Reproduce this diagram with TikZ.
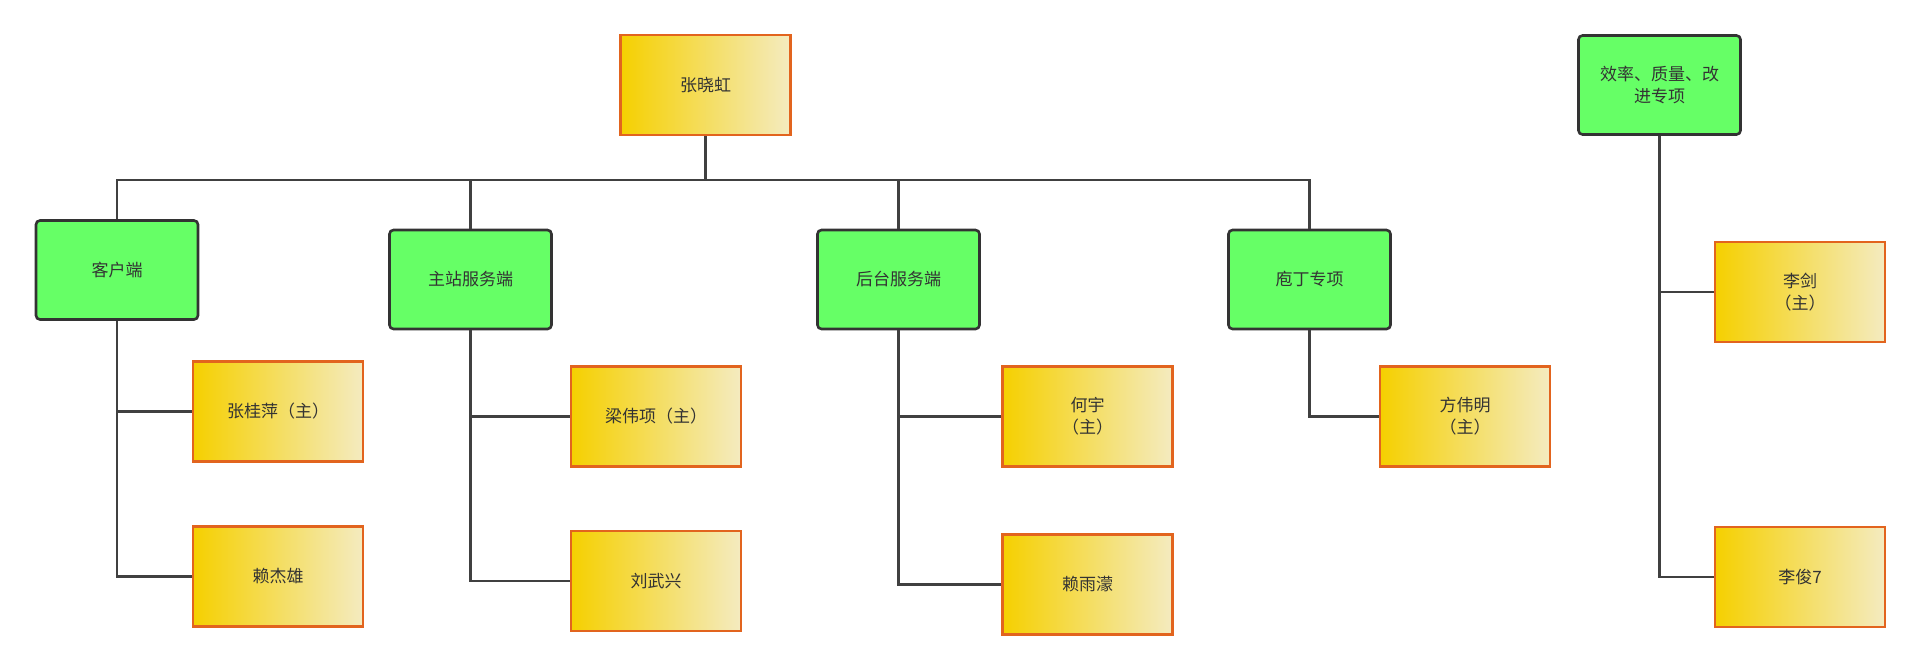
\documentclass[tikz,border=0pt]{standalone}
\usepackage{fontspec}
\setmainfont{Noto Sans CJK SC}
\begin{document}
\begin{tikzpicture}[x=0.5pt,y=-0.5pt,
  gbox/.style={draw=black!80,line width=1.3pt,rounded corners=2pt,fill={rgb,255:red,102;green,255;blue,102},minimum width=81pt,minimum height=49.5pt,align=center,font=\fontsize{8.5}{11}\selectfont,text=black!80,inner sep=1pt,text width=72pt},
  ybox/.style={draw={rgb,255:red,226;green,100;blue,30},line width=1.1pt,left color={rgb,255:red,245;green,208;blue,0},right color={rgb,255:red,244;green,235;blue,192},minimum width=85pt,minimum height=50pt,align=center,font=\fontsize{8.5}{11}\selectfont,text=black!80},
  ln/.style={draw=black!75,line width=1.2pt}]
\useasboundingbox (0,0) rectangle (1920,670);
\node[ybox] (top) at (705.5,85) {张晓虹};
\node[gbox] (eff) at (1659.5,85) {效率、质量、改\\进专项};
\node[gbox] (k) at (117,270) {客户端};
\node[gbox] (z) at (470.5,279.5) {主站服务端};
\node[gbox] (h) at (898.5,279.5) {后台服务端};
\node[gbox] (p) at (1309.5,279.5) {庖丁专项};
\node[ybox] (k1) at (278,411.5) {张桂萍（主）};
\node[ybox] (k2) at (278,576.5) {赖杰雄};
\node[ybox] (z1) at (656,416.5) {梁伟项（主）};
\node[ybox] (z2) at (656,581) {刘武兴};
\node[ybox] (h1) at (1087.5,416.5) {何宇\\（主）};
\node[ybox] (h2) at (1087.5,584.5) {赖雨濛};
\node[ybox] (p1) at (1465,416.5) {方伟明\\（主）};
\node[ybox] (e1) at (1800,292) {李剑\\（主）};
\node[ybox] (e2) at (1800,577) {李俊7};
\coordinate (bus) at (705.5,180);
\draw[ln] (top.south) -- (bus) -| (k.north);
\draw[ln] (bus) -| (z.north);
\draw[ln] (bus) -| (h.north);
\draw[ln] (bus) -| (p.north);
\draw[ln] (k.south) |- (k1.west);
\draw[ln] (k.south) |- (k2.west);
\draw[ln] (z.south) |- (z1.west);
\draw[ln] (z.south) |- (z2.west);
\draw[ln] (h.south) |- (h1.west);
\draw[ln] (h.south) |- (h2.west);
\draw[ln] (p.south) |- (p1.west);
\draw[ln] (eff.south) |- (e1.west);
\draw[ln] (eff.south) |- (e2.west);
\end{tikzpicture}
\end{document}
